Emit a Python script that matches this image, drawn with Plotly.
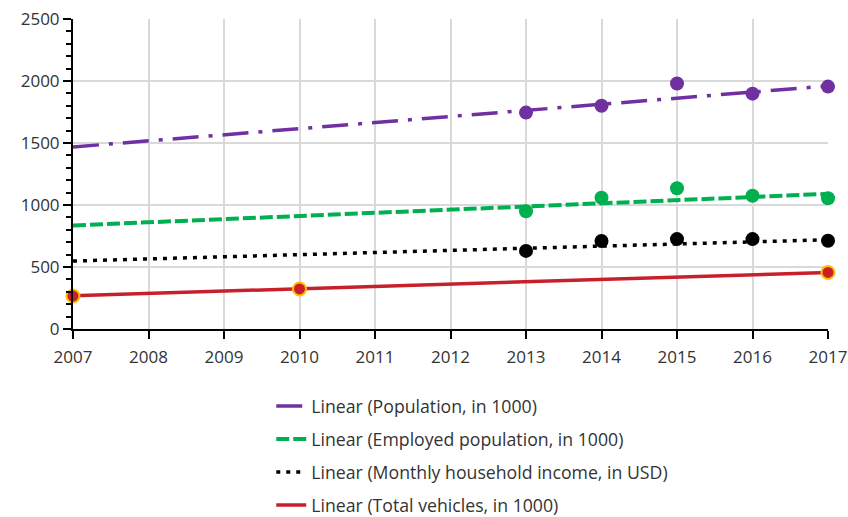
import plotly.graph_objects as go

years_pts = [2013, 2014, 2015, 2016, 2017]
population = [1745, 1800, 1980, 1898, 1955]
employed = [950, 1058, 1135, 1075, 1055]
income = [630, 710, 725, 725, 712]
veh_years = [2007, 2010, 2017]
vehicles = [266, 323, 456]

trend_x = [2007, 2017]
pop_trend = [1468, 1960]
emp_trend = [835, 1090]
inc_trend = [548, 720]
veh_trend = [268, 456]

tick_years = list(range(2007, 2018))

PURPLE = "#7030A0"
GREEN = "#00B050"
BLACK = "#000000"
RED = "#C8202A"
FONT = "Open Sans"

fig = go.Figure()

# trend lines (in legend)
fig.add_trace(go.Scatter(x=trend_x, y=pop_trend, mode="lines", name="Linear (Population, in 1000)",
                         line=dict(color=PURPLE, width=3.5, dash="26px,10px,4px,10px"), legendgroup="a"))
fig.add_trace(go.Scatter(x=trend_x, y=emp_trend, mode="lines", name="Linear (Employed population, in 1000)",
                         line=dict(color=GREEN, width=4, dash="13px,4px"), legendgroup="b"))
fig.add_trace(go.Scatter(x=trend_x, y=inc_trend, mode="lines", name="Linear (Monthly household income, in USD)",
                         line=dict(color=BLACK, width=3.5, dash="4px,6px"), legendgroup="c"))
fig.add_trace(go.Scatter(x=trend_x, y=veh_trend, mode="lines", name="Linear (Total vehicles, in 1000)",
                         line=dict(color=RED, width=3.5), legendgroup="d"))

# data points
fig.add_trace(go.Scatter(x=years_pts, y=population, mode="markers", showlegend=False,
                         marker=dict(color=PURPLE, size=14), cliponaxis=False))
fig.add_trace(go.Scatter(x=years_pts, y=employed, mode="markers", showlegend=False,
                         marker=dict(color=GREEN, size=14), cliponaxis=False))
fig.add_trace(go.Scatter(x=years_pts, y=income, mode="markers", showlegend=False,
                         marker=dict(color=BLACK, size=14), cliponaxis=False))
fig.add_trace(go.Scatter(x=veh_years, y=vehicles, mode="markers", showlegend=False,
                         marker=dict(color=RED, size=13, line=dict(color="#FFC000", width=2)), cliponaxis=False))

fig.update_layout(
    width=848, height=517,
    margin=dict(l=73, r=20, t=19, b=188),
    paper_bgcolor="white", plot_bgcolor="white",
    font=dict(family=FONT, size=17, color="#333333"),
    legend=dict(x=0.2626, xanchor="left", yref="container", y=0.2496, yanchor="top", tracegroupgap=7,
                font=dict(size=17.7, color="#333333"), bgcolor="rgba(0,0,0,0)"),
    xaxis=dict(range=[2007, 2017], tickmode="array", tickvals=tick_years,
               ticktext=[str(y) for y in tick_years], automargin=False, ticklabeloverflow="allow",
               ticklabelstandoff=4,
               showgrid=True, gridcolor="#D9D9D9", gridwidth=2,
               showline=True, linecolor="black", linewidth=2,
               ticks="outside", ticklen=8, tickwidth=2, tickcolor="black",
               zeroline=False),
    yaxis=dict(range=[0, 2500], tickmode="linear", tick0=0, dtick=500, automargin=False,
               ticklabeloverflow="allow",
               showgrid=True, gridcolor="#D9D9D9", gridwidth=2,
               showline=True, linecolor="black", linewidth=2,
               ticks="outside", ticklen=8, tickwidth=2, tickcolor="black",
               minor=dict(ticks="outside", ticklen=5, tickwidth=2, tickcolor="black", dtick=100, showgrid=False),
               zeroline=False),
)

fig.write_html("out.html", config={"displayModeBar": False},
               post_script="document.body.style.margin='0';document.body.style.overflow='hidden';")
